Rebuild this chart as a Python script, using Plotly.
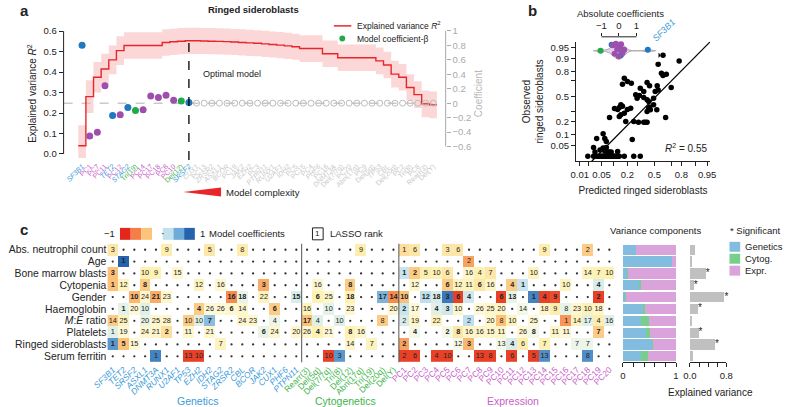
import plotly.graph_objects as go
from statistics import NormalDist

W, H = 788, 407
FONT = "Liberation Sans, Arial, Helvetica, sans-serif"
INK = "#222222"
GREY = "#aaaaaa"


def fx(p):
    return p / W


def fy(p):
    return 1 - p / H


probit = NormalDist().inv_cdf

# ------------------------------------------------------------------ data
genetics = ["SF3B1", "TET2", "SRSF2", "ASXL1", "DNMT3A", "RUNX1", "U2AF1", "TP53", "EZH2",
            "IDH2", "STAG2", "ZRSR2", "CBL", "BCOR", "JAK2", "CUX1", "PHF6", "PTPN11"]
cytogenetics = ["Rearr(3)", "Del(5q)", "Del(7/7q)", "Tri(8)", "Del(12)", "Abn(17q)",
                 "Tri(19)", "Del(20q)", "Del(Y)"]
expression = ["PC1", "PC2", "PC3", "PC4", "PC5", "PC6", "PC7", "PC8", "PC9", "PC10",
              "PC11", "PC12", "PC13", "PC14", "PC15", "PC16", "PC17", "PC18", "PC19", "PC20"]
outcomes = ["Abs. neutrophil count", "Age", "Bone marrow blasts", "Cytopenia", "Gender",
            "Haemoglobin", "<i>M</i>:<i>E</i> ratio", "Platelets", "Ringed sideroblasts",
            "Serum ferritin"]

# panel a: variables in order of entry into the LASSO model
model_order = ["SF3B1", "PC1", "PC7", "PC11", "TET2", "PC12", "STAG2", "Tri(19)", "PC14",
               "PC17", "PC18", "PC6", "PC10", "Del(12)", "SRSF2",
               "CUX1", "PC13", "ZRSR2", "ASXL1", "BCOR", "PC19", "JAK2", "EZH2", "PC3",
               "PTPN11", "RUNX1", "U2AF1", "IDH2", "PC5", "PC15", "PC4", "PHF6", "PC16",
               "DNMT3A", "Del(7/7q)", "PC20", "Abn(17q)", "PC9", "Del(5q)", "TP53", "CBL",
               "Del(20q)", "PC2", "Tri(8)", "PC8", "Rearr(3)", "Del(Y)"]
r2_mean = [0.04, 0.28, 0.375, 0.415, 0.46, 0.505, 0.53, 0.53, 0.53, 0.53, 0.53, 0.545,
           0.548, 0.551, 0.553, 0.553, 0.552, 0.551, 0.55, 0.549, 0.547, 0.545, 0.543,
           0.541, 0.538, 0.535, 0.532, 0.528, 0.524, 0.515, 0.515, 0.515, 0.49, 0.49,
           0.47, 0.47, 0.47, 0.47, 0.47, 0.455, 0.435, 0.39, 0.375, 0.325, 0.29, 0.245, 0.24]
r2_upper = [0.14, 0.36, 0.45, 0.49, 0.53, 0.575, 0.595, 0.595, 0.595, 0.595, 0.595, 0.61,
            0.612, 0.615, 0.617, 0.617, 0.616, 0.615, 0.614, 0.613, 0.611, 0.609, 0.607,
            0.605, 0.602, 0.599, 0.596, 0.592, 0.588, 0.58, 0.58, 0.58, 0.555, 0.555,
            0.535, 0.535, 0.535, 0.535, 0.535, 0.52, 0.5, 0.455, 0.44, 0.39, 0.355, 0.31, 0.305]
r2_lower = [-0.02, 0.2, 0.30, 0.34, 0.39, 0.435, 0.465, 0.465, 0.465, 0.465, 0.465, 0.48,
            0.484, 0.487, 0.489, 0.489, 0.488, 0.487, 0.486, 0.485, 0.483, 0.481, 0.479,
            0.477, 0.474, 0.471, 0.468, 0.464, 0.46, 0.45, 0.45, 0.45, 0.425, 0.425,
            0.405, 0.405, 0.405, 0.405, 0.405, 0.39, 0.37, 0.325, 0.31, 0.26, 0.225, 0.18, 0.175]
coef_selected = [0.80, -0.455, -0.40, 0.24, -0.17, -0.16, -0.06, -0.10, -0.09, 0.10, 0.08,
                 0.11, 0.04, 0.03, 0.01]

# panel b: predicted vs observed ringed sideroblasts (proportions)
pred_rs = [0.019, 0.029, 0.036, 0.042, 0.045, 0.048, 0.052, 0.055, 0.058, 0.061, 0.064,
           0.067, 0.071, 0.074, 0.078, 0.081, 0.085, 0.089, 0.093, 0.097, 0.102, 0.107,
           0.113, 0.12, 0.128, 0.137, 0.174, 0.26, 0.33,
           0.029, 0.032, 0.045, 0.055, 0.061, 0.067, 0.074, 0.081, 0.089, 0.126,
           0.036, 0.061, 0.055, 0.067, 0.245, 0.081,
           0.107, 0.126, 0.137, 0.148, 0.16, 0.2, 0.23, 0.174, 0.148, 0.137,
           0.186, 0.26, 0.31, 0.37, 0.41, 0.39,
           0.28, 0.32, 0.37, 0.41, 0.295, 0.43, 0.49, 0.53, 0.43, 0.45, 0.41, 0.44,
           0.33, 0.37, 0.44, 0.535, 0.547, 0.51, 0.49, 0.70, 0.41,
           0.16, 0.174, 0.20, 0.236, 0.587, 0.645, 0.606, 0.547,
           0.49, 0.535, 0.606, 0.78, 0.637]
obs_rs = [0.022, 0.022, 0.022, 0.022, 0.022, 0.022, 0.022, 0.022, 0.022, 0.022, 0.022,
          0.022, 0.022, 0.022, 0.022, 0.022, 0.022, 0.022, 0.022, 0.022, 0.022, 0.022,
          0.022, 0.022, 0.022, 0.022, 0.022, 0.022, 0.022,
          0.043, 0.031, 0.036, 0.041, 0.033, 0.043, 0.031, 0.031, 0.031, 0.032,
          0.078, 0.078, 0.105, 0.065, 0.073, 0.239,
          0.34, 0.33, 0.354, 0.388, 0.37, 0.33, 0.346, 0.286, 0.268, 0.25,
          0.20, 0.20, 0.193, 0.193, 0.193, 0.193,
          0.52, 0.51, 0.484, 0.454, 0.475, 0.43, 0.388, 0.326, 0.346, 0.326, 0.306, 0.36,
          0.607, 0.564, 0.64, 0.64, 0.586, 0.564, 0.475, 0.616, 0.68,
          0.657, 0.728, 0.69, 0.67, 0.78, 0.77, 0.757, 0.86,
          0.917, 0.917, 0.917, 0.883, 0.239]
fit_pred = [0.0254, 0.9586]
fit_obs = [0.0146, 0.9666]
r2_text = "0.55"
pred_ticks = [0.01, 0.02, 0.05, 0.1, 0.2, 0.3, 0.5, 0.7, 0.8, 0.9, 0.95]
pred_labels = ["0.01", "", "0.05", "", "0.2", "", "0.5", "", "0.8", "", "0.95"]
obs_ticks = [0.05, 0.1, 0.2, 0.3, 0.5, 0.7, 0.8, 0.9, 0.95]
obs_labels = ["0.05", "0.1", "0.2", "", "0.5", "", "0.8", "0.9", "0.95"]

# panel b inset: absolute coefficients
abs_coef_values = [1.65, -0.42, 0.10, 0.05, -1.05, 0.0, -0.35, -0.25, -0.18, -0.10,
                   -0.02, 0.05, 0.12, 0.20, 0.30]
abs_coef_groups = ["gen", "gen", "gen", "gen", "cyt", "cyt", "exp", "exp", "exp", "exp",
                   "exp", "exp", "exp", "exp", "exp"]
abs_coef_offsets = [0.1, 0.6, -0.45, 0.1, 0.0, 0.2, 0.55, -0.3, 0.7, 0.15, -0.55, 0.4,
                    0.65, -0.2, 0.1]

# panel c: LASSO rank, coefficient, bold(significant) per outcome
cells_neutrophil = {"SF3B1": (3, -0.15, False), "RUNX1": (9, -0.12, False),
                    "IDH2": (5, -0.15, False), "CBL": (8, -0.12, False),
                    "Abn(17q)": (9, -0.12, False), "PC1": (1, -0.2, False),
                    "PC2": (6, -0.15, False), "PC5": (3, -0.15, False),
                    "PC6": (6, -0.15, False), "PC14": (9, -0.12, False),
                    "PC18": (2, -0.3, False)}
cells_age = {"TET2": (1, 1.0, True), "PC7": (2, -0.5, False)}
cells_blasts = {"SF3B1": (3, -0.35, True), "ASXL1": (10, -0.1, False),
                "DNMT3A": (9, -0.1, False), "U2AF1": (15, -0.05, False),
                "PC1": (1, 0.3, True), "PC2": (2, -0.3, True), "PC3": (5, -0.12, False),
                "PC4": (10, -0.1, False), "PC5": (6, -0.15, False), "PC7": (16, -0.05, False),
                "PC8": (4, -0.1, False), "PC9": (7, -0.15, False), "PC13": (10, -0.08, False),
                "PC18": (14, -0.08, False), "PC19": (7, -0.1, False), "PC20": (10, -0.1, False)}
cells_cytopenia = {"SF3B1": (1, -0.35, True), "TET2": (12, -0.08, False),
                   "ASXL1": (8, -0.3, True), "EZH2": (12, -0.08, False),
                   "STAG2": (16, -0.05, False), "JAK2": (3, -0.45, True),
                   "Del(5q)": (16, -0.05, False), "Del(12)": (8, -0.3, True),
                   "PC2": (12, -0.05, False), "PC5": (6, -0.3, True), "PC6": (12, -0.08, False),
                   "PC7": (11, -0.08, False), "PC8": (6, -0.15, True), "PC9": (16, -0.06, False),
                   "PC11": (4, -0.3, True), "PC12": (1, 0.3, True), "PC16": (10, -0.08, False),
                   "PC19": (4, 0.2, True)}
cells_gender = {"SRSF2": (10, -0.4, True), "ASXL1": (24, -0.05, False),
                "DNMT3A": (21, -0.45, True), "RUNX1": (23, -0.05, False),
                "ZRSR2": (16, -0.6, True), "CBL": (18, 0.1, True), "JAK2": (22, -0.08, False),
                "PTPN11": (15, 0.2, True), "Del(5q)": (6, -0.1, True),
                "Del(7/7q)": (25, -0.05, False), "Del(12)": (18, -0.1, True),
                "Del(20q)": (17, 0.6, True), "Del(Y)": (14, -0.6, True), "PC1": (10, -0.35, True),
                "PC3": (12, 0.35, True), "PC4": (18, 0.2, True), "PC5": (3, 0.9, True),
                "PC6": (6, -0.9, True), "PC7": (4, 0.25, True), "PC10": (6, -0.9, True),
                "PC11": (13, 0.1, True), "PC13": (1, 0.85, True), "PC14": (4, -0.9, True),
                "PC15": (9, -0.85, True), "PC19": (2, -0.9, True)}
cells_haemoglobin = {"TET2": (1, 0.12, True), "SRSF2": (20, -0.03, False),
                     "ASXL1": (10, 0.15, False), "EZH2": (4, -0.3, True),
                     "IDH2": (26, -0.03, False), "STAG2": (26, -0.03, False),
                     "ZRSR2": (6, -0.05, True), "CBL": (14, -0.05, False),
                     "CUX1": (6, -0.3, True), "Rearr(3)": (16, -0.08, False),
                     "Del(7/7q)": (10, 0.12, False), "Del(12)": (23, -0.05, False),
                     "Del(Y)": (20, -0.05, False), "PC1": (2, 0.3, True), "PC2": (17, -0.03, False),
                     "PC4": (4, 0.15, True), "PC5": (3, 0.25, True), "PC6": (10, -0.05, False),
                     "PC8": (26, -0.03, False), "PC9": (25, -0.06, False),
                     "PC10": (20, -0.06, False), "PC12": (14, 0.05, False),
                     "PC14": (18, -0.06, False), "PC15": (9, -0.12, False),
                     "PC16": (8, 0.1, False), "PC17": (23, -0.05, False),
                     "PC18": (10, -0.1, False), "PC19": (18, -0.06, False)}
cells_me_ratio = {"SF3B1": (14, -0.3, False), "TET2": (25, -0.08, False),
                  "ASXL1": (20, 0.1, False), "DNMT3A": (25, -0.05, False),
                  "RUNX1": (28, -0.05, False), "TP53": (10, -0.3, False),
                  "EZH2": (10, 0.15, False), "IDH2": (7, 0.55, True), "CBL": (24, -0.05, False),
                  "BCOR": (23, -0.05, False), "CUX1": (4, 0.08, False),
                  "Rearr(3)": (17, -0.35, True), "Del(5q)": (4, 0.15, False),
                  "Tri(8)": (10, 0.15, False), "Del(20q)": (8, -0.3, False),
                  "PC1": (2, 0.2, False), "PC2": (19, -0.06, False), "PC4": (22, -0.08, False),
                  "PC7": (2, 0.35, False), "PC9": (20, -0.05, False), "PC10": (8, -0.35, False),
                  "PC11": (10, -0.08, False), "PC13": (25, -0.03, False),
                  "PC16": (1, -0.55, False), "PC17": (14, -0.08, False),
                  "PC18": (17, 0.15, False), "PC19": (4, -0.12, False), "PC20": (16, 0.15, False)}
cells_platelets = {"SF3B1": (1, 0.15, False), "TET2": (19, -0.03, False),
                   "ASXL1": (24, -0.05, False), "DNMT3A": (21, -0.05, False),
                   "RUNX1": (2, -0.2, True), "TP53": (11, -0.05, False),
                   "IDH2": (21, -0.05, False), "JAK2": (6, 0.1, True), "CUX1": (24, -0.05, False),
                   "PTPN11": (20, -0.05, False), "Rearr(3)": (26, -0.05, False),
                   "Del(5q)": (4, -0.1, True), "Del(7/7q)": (21, -0.03, False),
                   "Del(12)": (8, -0.1, True), "Abn(17q)": (16, -0.06, False),
                   "PC2": (4, 0.05, True), "PC5": (2, 0.05, True), "PC6": (8, -0.15, True),
                   "PC7": (16, -0.06, False), "PC8": (16, -0.06, False), "PC9": (15, -0.06, False),
                   "PC10": (11, -0.06, False), "PC12": (26, -0.03, False), "PC13": (8, 0.05, True),
                   "PC15": (11, -0.06, False), "PC16": (11, -0.03, False), "PC19": (7, -0.3, True)}
cells_ringed = {"SF3B1": (1, 0.75, True), "TET2": (5, -0.35, True), "SRSF2": (15, -0.03, False),
                "STAG2": (7, -0.08, False), "Del(12)": (14, -0.06, False),
                "Tri(19)": (7, -0.08, False), "PC1": (2, -0.5, True), "PC6": (12, 0.05, False),
                "PC7": (3, -0.4, True), "PC10": (13, 0.05, False), "PC11": (4, 0.2, True),
                "PC12": (6, -0.12, False), "PC14": (7, -0.1, False), "PC17": (7, 0.08, False),
                "PC18": (7, 0.08, False)}
cells_ferritin = {"DNMT3A": (1, 0.85, False), "TP53": (13, -0.9, False), "EZH2": (10, -0.9, False),
                  "Del(7/7q)": (10, -0.9, False), "Tri(8)": (3, 0.75, False),
                  "PC1": (2, -0.9, False), "PC2": (6, -0.9, False), "PC4": (4, -0.9, False),
                  "PC5": (10, -0.9, False), "PC8": (13, -0.9, False), "PC9": (8, -0.9, False),
                  "PC11": (6, -0.9, False), "PC13": (5, -0.9, False), "PC14": (13, 0.8, False),
                  "PC18": (8, 0.8, False)}

# variance components and explained variance per outcome
var_genetics = [0.24, 0.93, 0.085, 0.31, 0.055, 0.37, 0.34, 0.44, 0.555, 0.34]
var_cytog = [0.0, 0.0, 0.005, 0.03, 0.005, 0.05, 0.15, 0.07, 0.005, 0.14]
var_expr = [0.76, 0.07, 0.91, 0.66, 0.94, 0.58, 0.51, 0.49, 0.44, 0.52]
explained_var = [0.107, 0.036, 0.35, 0.086, 0.76, 0.18, 0.05, 0.19, 0.55, 0.07]
significant = [False, False, True, True, True, True, False, True, True, False]

# ------------------------------------------------------------------ styling
GEN_L, CYT_L, EXP_L = "#3a9ad9", "#3db54a", "#c860c8"      # label colours
GEN_D, CYT_D, EXP_D = "#2079c0", "#23aa48", "#9e4fae"      # dot colours
GEN_B, CYT_B, EXP_B = "#82bde0", "#78cf8c", "#dba3db"      # bar colours
group_of = {}
for n in genetics:
    group_of[n] = "gen"
for n in cytogenetics:
    group_of[n] = "cyt"
for n in expression:
    group_of[n] = "exp"
label_col = {"gen": GEN_L, "cyt": CYT_L, "exp": EXP_L}
dot_col = {"gen": GEN_D, "cyt": CYT_D, "exp": EXP_D}

coef_scale = [[0.0, "#e3271c"], [0.17, "#f47e45"], [0.33, "#fcc37b"], [0.45, "#fdf1b4"],
              [0.5, "#fffbe6"], [0.55, "#e8f4e8"], [0.67, "#c1e1ef"], [0.83, "#6faad8"],
              [1.0, "#2563ad"]]
legend_boxes = ["#e3271c", "#f47e45", "#fcc37b", "#ffffff", "#c1e1ef", "#6faad8", "#2563ad"]


def tick_label(name, color):
    txt = "<i>%s</i>" % name if group_of[name] == "gen" else name
    return "<span style='color:%s'>%s</span>" % (color, txt)


fig = go.Figure()

# ------------------------------------------------------------------ panel a
k_idx = list(range(1, len(model_order) + 1))
edges = [k - 0.5 for k in k_idx] + [len(model_order) + 0.5]
fig.add_trace(go.Scatter(x=edges, y=r2_lower + r2_lower[-1:], mode="lines",
                         line=dict(width=0, shape="hv"), xaxis="x", yaxis="y",
                         hoverinfo="skip"))
fig.add_trace(go.Scatter(x=edges, y=r2_upper + r2_upper[-1:], mode="lines",
                         line=dict(width=0, shape="hv"), fill="tonexty",
                         fillcolor="rgba(249,175,178,0.5)", xaxis="x", yaxis="y",
                         hoverinfo="skip"))
fig.add_trace(go.Scatter(x=edges, y=r2_mean + r2_mean[-1:], mode="lines",
                         line=dict(color="#e8262a", width=1.4, shape="hv"),
                         xaxis="x", yaxis="y"))
n_sel = len(coef_selected)
fig.add_trace(go.Scatter(x=k_idx[n_sel:], y=[0.0] * (len(model_order) - n_sel),
                         mode="markers", xaxis="x", yaxis="y2",
                         marker=dict(size=6, symbol="circle-open", color="#bcbcbc",
                                     line=dict(width=1, color="#bcbcbc"))))
fig.add_trace(go.Scatter(x=k_idx[:n_sel], y=coef_selected, mode="markers", xaxis="x",
                         yaxis="y2",
                         marker=dict(size=7, color=[dot_col[group_of[n]] for n in model_order[:n_sel]])))

best_k = k_idx[r2_mean.index(max(r2_mean))]
a_ticktext = [tick_label(n, label_col[group_of[n]] if i < n_sel else "#c8c8c8")
              for i, n in enumerate(model_order)]

# ------------------------------------------------------------------ panel b
fig.add_trace(go.Scatter(x=[probit(v) for v in fit_pred], y=[probit(v) for v in fit_obs],
                         mode="lines", line=dict(color="black", width=1.2),
                         xaxis="x3", yaxis="y3"))
fig.add_trace(go.Scatter(x=[probit(v) for v in pred_rs], y=[probit(v) for v in obs_rs],
                         mode="markers", marker=dict(size=5.5, color="black"),
                         xaxis="x3", yaxis="y3"))

# inset violin
fig.add_trace(go.Violin(x=abs_coef_values, y0=0, orientation="h", xaxis="x4", yaxis="y4",
                        fillcolor="rgba(196,150,214,0.45)", line=dict(color="#a8a8a8", width=1),
                        points=False, spanmode="soft", bandwidth=0.22, width=1.7,
                        scalemode="width", hoverinfo="skip"))
fig.add_trace(go.Scatter(x=abs_coef_values, y=abs_coef_offsets, mode="markers",
                         marker=dict(size=6, color=[dot_col[g] for g in abs_coef_groups]),
                         xaxis="x4", yaxis="y4"))

# ------------------------------------------------------------------ panel c heatmap
columns = genetics + cytogenetics + expression
row_cells = [cells_neutrophil, cells_age, cells_blasts, cells_cytopenia, cells_gender,
             cells_haemoglobin, cells_me_ratio, cells_platelets, cells_ringed, cells_ferritin]
z = []
tx, ty, tt = [], [], []
dx, dy = [], []
for r, cells in enumerate(row_cells):
    zrow = []
    for c, name in enumerate(columns):
        if name in cells:
            rank, coef, bold = cells[name]
            zrow.append(coef)
            tx.append(c)
            ty.append(r)
            tt.append("<b>%d</b>" % rank if bold else str(rank))
        else:
            zrow.append(None)
            dx.append(c)
            dy.append(r)
    z.append(zrow)

fig.add_trace(go.Heatmap(z=z, x=list(range(len(columns))), y=list(range(len(outcomes))),
                         colorscale=coef_scale, zmin=-1, zmax=1, showscale=False,
                         xaxis="x5", yaxis="y5", hoverinfo="skip"))
fig.add_trace(go.Scatter(x=dx, y=dy, mode="markers", marker=dict(size=2.3, color="#333333"),
                         xaxis="x5", yaxis="y5", hoverinfo="skip"))
fig.add_trace(go.Scatter(x=tx, y=ty, text=tt, mode="text",
                         textfont=dict(size=7.3, color=INK, family=FONT),
                         xaxis="x5", yaxis="y5", hoverinfo="skip"))

rows = list(range(len(outcomes)))
for vals, col, nm in [(var_genetics, GEN_B, "Genetics"), (var_cytog, CYT_B, "Cytog."),
                      (var_expr, EXP_B, "Expr.")]:
    fig.add_trace(go.Bar(x=vals, y=rows, orientation="h", marker=dict(color=col, line=dict(width=0)),
                         width=0.86, name=nm, xaxis="x6", yaxis="y6"))
fig.add_trace(go.Bar(x=explained_var, y=rows, orientation="h",
                     marker=dict(color="#c0c0c0", line=dict(width=0)), width=0.86,
                     xaxis="x7", yaxis="y7"))
fig.add_trace(go.Scatter(x=[v for v, s in zip(explained_var, significant) if s],
                         y=[r for r, s in zip(rows, significant) if s],
                         text=["*"] * sum(significant), mode="text", textposition="middle right",
                         textfont=dict(size=10, color=INK), cliponaxis=False,
                         xaxis="x7", yaxis="y7"))

# ------------------------------------------------------------------ layout
hm_dom = [fy(362), fy(243)]
c_ticktext = [tick_label(n, label_col[group_of[n]]) for n in columns]
axis_common = dict(showgrid=False, zeroline=False, linecolor=INK, tickcolor=INK,
                   tickfont=dict(size=9.5, color=INK, family=FONT))

layout = dict(
    width=W, height=H, margin=dict(l=0, r=0, t=0, b=0), showlegend=False,
    paper_bgcolor="white", plot_bgcolor="white", barmode="stack",
    font=dict(family=FONT, color=INK, size=10),
    xaxis=dict(axis_common, domain=[fx(50), fx(443)], range=[-1.42, 48.64], anchor="y",
               tickvals=k_idx, ticktext=a_ticktext, tickangle=-45, ticks="",
               tickfont=dict(size=7, family=FONT), showline=False),
    yaxis=dict(axis_common, domain=[fy(158.9), fy(25.2)], range=[-0.03, 0.62], anchor="x",
               tickvals=[0, 0.1, 0.2, 0.3, 0.4, 0.5, 0.6],
               ticktext=["0.0", "0.1", "0.2", "0.3", "0.4", "0.5", "0.6"],
               ticks="outside", ticklen=4, showline=False,
               title=dict(text="Explained variance <i>R</i><sup>2</sup>", font=dict(size=10),
                          standoff=4)),
    yaxis2=dict(axis_common, overlaying="y", side="right", anchor="x",
                range=[-0.787, 1.052],
                tickvals=[-0.6, -0.4, -0.2, 0, 0.2, 0.4, 0.6, 0.8, 1],
                ticktext=["\u22120.6", "\u22120.4", "\u22120.2", "0", "0.2", "0.4", "0.6", "0.8", "1"],
                ticks="outside", ticklen=4, tickcolor=GREY, showline=False,
                tickfont=dict(size=9.5, color=GREY, family=FONT),
                title=dict(text="Coefficient", font=dict(size=10, color="#b8b8b8"), standoff=4)),
    xaxis3=dict(axis_common, domain=[fx(577), fx(715)], range=[-2.447, 1.735], anchor="y3",
                tickvals=[probit(v) for v in pred_ticks], ticktext=pred_labels,
                ticks="outside", ticklen=4, showline=True, tickangle=0,
                title=dict(text="Predicted ringed sideroblasts", font=dict(size=10), standoff=8)),
    yaxis3=dict(axis_common, domain=[fy(160), fy(40)], range=[-2.18, 1.833], anchor="x3",
                tickvals=[probit(v) for v in obs_ticks], ticktext=obs_labels,
                ticks="outside", ticklen=4, showline=True,
                title=dict(text="Observed<br>ringed sideroblasts", font=dict(size=10), standoff=4)),
    xaxis4=dict(axis_common, domain=[fx(595), fx(662)], range=[-1.46, 2.26], anchor="y4",
                side="top", tickvals=[-1, 0, 1], ticktext=["\u22121", "0", "1"],
                ticks="outside", ticklen=3, showline=False),
    yaxis4=dict(domain=[fy(60), fy(35)], range=[-1.1, 1.4], anchor="x4", type="linear",
                visible=False),
    xaxis5=dict(axis_common, domain=[fx(95), fx(617)], range=[-0.5, len(columns) - 0.5],
                anchor="y5", tickvals=list(range(len(columns))), ticktext=c_ticktext,
                tickangle=-45, ticks="", showline=False, tickfont=dict(size=8.5, family=FONT)),
    yaxis5=dict(axis_common, domain=hm_dom, range=[len(outcomes) - 0.5, -0.5], anchor="x5",
                tickvals=rows, ticktext=outcomes, ticks="", showline=False,
                tickfont=dict(size=10.4, color=INK, family=FONT)),
    xaxis6=dict(axis_common, domain=[fx(625.3), fx(680)], range=[0, 1], anchor="y6",
                tickvals=[0, 0.2, 0.4, 0.6, 0.8, 1], ticktext=["0", "", "", "", "", "1"],
                ticks="outside", ticklen=4, showline=True),
    yaxis6=dict(domain=hm_dom, range=[len(outcomes) - 0.5, -0.5], anchor="x6", visible=False),
    xaxis7=dict(axis_common, domain=[fx(694.3), fx(731.7)], range=[0, 0.8], anchor="y7",
                tickvals=[0, 0.2, 0.4, 0.6, 0.8], ticktext=["0.0", "", "", "", "0.8"],
                ticks="outside", ticklen=4, showline=True),
    yaxis7=dict(domain=hm_dom, range=[len(outcomes) - 0.5, -0.5], anchor="x7", visible=False),
)
fig.update_layout(**layout)

shapes = []
# panel a axis lines and guides
shapes.append(dict(type="line", xref="paper", yref="y", x0=fx(50), x1=fx(50), y0=0, y1=0.6,
                   line=dict(color=INK, width=1)))
shapes.append(dict(type="line", xref="paper", yref="y2", x0=fx(443), x1=fx(443), y0=-0.6, y1=1,
                   line=dict(color=GREY, width=1)))
shapes.append(dict(type="line", xref="paper", yref="y2", x0=fx(50), x1=fx(438), y0=0, y1=0,
                   line=dict(color="#b0b0b0", width=1, dash="dash"), layer="below"))
shapes.append(dict(type="line", xref="x", yref="y", x0=best_k, x1=best_k, y0=-0.03,
                   y1=max(r2_mean) + 0.003, line=dict(color="black", width=1.3, dash="dash")))
# model complexity wedge
shapes.append(dict(type="path", xref="paper", yref="paper",
                   path="M %f,%f L %f,%f L %f,%f Z" % (fx(173), fy(191), fx(212), fy(186.5),
                                                       fx(212), fy(195.5)),
                   fillcolor="#e8262a", line=dict(width=0)))
# panel a legend
shapes.append(dict(type="line", xref="paper", yref="paper", x0=fx(328), x1=fx(346), y0=fy(24),
                   y1=fy(24), line=dict(color="#e8262a", width=1.5)))
shapes.append(dict(type="circle", xref="paper", yref="paper", x0=fx(333.7), x1=fx(339.7),
                   y0=fy(39.7), y1=fy(33.7), fillcolor=CYT_D, line=dict(width=0)))
# inset bracket
shapes.append(dict(type="line", xref="x4", yref="paper", x0=-1, x1=1, y0=fy(35), y1=fy(35),
                   line=dict(color=INK, width=1)))
# heatmap separators
for xs in [len(genetics) - 0.5, len(genetics) + len(cytogenetics) - 0.5]:
    shapes.append(dict(type="line", xref="x5", yref="y5", x0=xs, x1=xs, y0=-0.75, y1=9.6,
                       line=dict(color="#555555", width=1)))
# coefficient colour legend
for i, col in enumerate(legend_boxes):
    shapes.append(dict(type="rect", xref="paper", yref="paper", x0=fx(108 + 11 * i),
                       x1=fx(119 + 11 * i), y0=fy(239), y1=fy(227), fillcolor=col,
                       line=dict(width=0)))
shapes.append(dict(type="rect", xref="paper", yref="paper", x0=fx(306), x1=fx(317),
                   y0=fy(239), y1=fy(227), fillcolor="white", line=dict(color=INK, width=1)))
# variance component legend
for i, col in enumerate([GEN_B, CYT_B, EXP_B]):
    shapes.append(dict(type="rect", xref="paper", yref="paper", x0=fx(735), x1=fx(746),
                       y0=fy(251 + 12 * i), y1=fy(241 + 12 * i), fillcolor=col,
                       line=dict(width=0)))
fig.update_layout(shapes=shapes)


def note(text, x, y, size=9.5, color=INK, xanchor="center", yanchor="middle", **kw):
    return dict(text=text, x=fx(x), y=fy(y), xref="paper", yref="paper", showarrow=False,
                font=dict(size=size, color=color, family=FONT), xanchor=xanchor,
                yanchor=yanchor, **kw)


ann = [
    note("<b>a</b>", 3, 9, size=15, xanchor="left"),
    note("<b>b</b>", 526, 9, size=15, xanchor="left"),
    note("<b>c</b>", 3, 229, size=15, xanchor="left"),
    note("<b>Ringed sideroblasts</b>", 245, 8, size=9.5),
    note("Explained variance <i>R</i><sup>2</sup>", 350, 24, size=8.5, xanchor="left"),
    note("Model coefficient-\u03b2", 350, 37, size=8.5, xanchor="left"),
    note("Optimal model", 223, 72, size=9),
    note("Model complexity", 215, 191, size=9.5, xanchor="left"),
    note("Absolute coefficients", 623, 12, size=9.5),
    dict(text="<i>SF3B1</i>", x=abs_coef_values[0], y=0.45, xref="x4", yref="y4",
         showarrow=False, textangle=-45, xanchor="left", yanchor="bottom",
         font=dict(size=9, color=GEN_L, family=FONT)),
    note("<i>R</i><sup>2</sup> = " + r2_text, 690, 147, size=10),
    note("\u22121", 105, 233, size=9.5, xanchor="right"),
    note("\u00b7", 152.5, 232, size=11),
    note("1", 188, 233, size=9.5, xanchor="left"),
    note("Model coefficients", 197, 233, size=9.5, xanchor="left"),
    note("1", 311.5, 233, size=8),
    note("LASSO rank", 322, 233, size=9.5, xanchor="left"),
    note("Genetics", 188, 401, size=10.5, color=GEN_L),
    note("Cytogenetics", 340, 401, size=10.5, color=CYT_L),
    note("Expression", 512, 401, size=10.5, color=EXP_L),
    note("Variance components", 659, 230, size=9.5),
    note("* Significant", 733, 230, size=9.5, xanchor="left"),
    note("Genetics", 749, 246, size=9.5, xanchor="left"),
    note("Cytog.", 749, 258, size=9.5, xanchor="left"),
    note("Expr.", 749, 270, size=9.5, xanchor="left"),
    note("Explained variance", 715, 392, size=10),
]
fig.update_layout(annotations=ann)

fig.write_html("out.html", config={"displayModeBar": False},
               post_script="document.body.style.margin='0';")
